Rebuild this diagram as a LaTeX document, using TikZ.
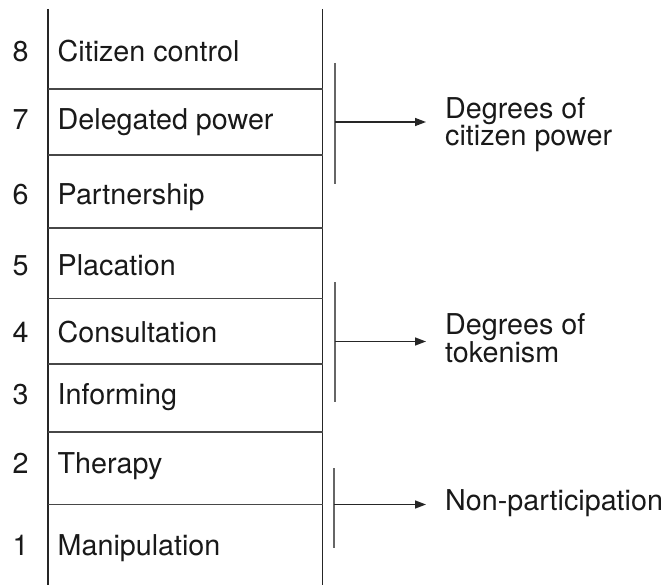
\documentclass[tikz,border=0pt]{standalone}
\usepackage{fontspec}
\setmainfont{TeX Gyre Heros}
\usetikzlibrary{arrows.meta}

\tikzset{
  rail/.style={line width=1.6pt, draw=black!85},
  rung/.style={line width=1.6pt, draw=black!72},
  brace/.style={line width=1.8pt, draw=black!60},
  pointer/.style={line width=1.4pt, draw=black!85,
    -{Triangle[length=11pt,width=8pt]}, shorten >=19pt},
  stepnum/.style={anchor=base, inner sep=0pt, text=black!90},
  steplabel/.style={anchor=base west, inner sep=0pt, text=black!90},
  group/.style={anchor=west, inner sep=0pt, align=left, text=black!90},
}

\begin{document}
\begin{tikzpicture}[x=1pt, y=-1pt, font=\fontsize{28.7}{25}\selectfont]
  \useasboundingbox (0,0) rectangle (666,585);

  % ladder rails
  \coordinate (Lt) at (48,9);    \coordinate (Lb) at (48,585);
  \coordinate (Rt) at (322.5,9); \coordinate (Rb) at (322.5,585);
  \draw[rail] (Lt) -- (Lb);
  \draw[rail] (Rt) -- (Rb);

  % rungs between the steps
  \foreach \y in {89,155,228,298.5,364,432,504.5}
    \draw[rung] (Lt |- 0,\y) -- (Rt |- 0,\y);

  % step numbers and names
  \foreach \n/\y/\t in {8/62/Citizen control, 7/130/Delegated power,
      6/205/Partnership, 5/275/Placation, 4/342.5/Consultation,
      3/404/Informing, 2/473.5/Therapy, 1/555/Manipulation} {
    \node[stepnum] (n\n) at (20.5,\y) {\n};
    \node[steplabel] (l\n) at (57.5,\y) {\t};
  }

  % group labels
  \node[group] (g1) at (445,124.5) {Degrees of\\citizen power};
  \node[group] (g2) at (445,338.5) {Degrees of\\tokenism};
  \node[group] (g3) at (445,503) {Non-participation};

  % brackets
  \coordinate (b1t) at (335,63);  \coordinate (b1b) at (335,184);
  \coordinate (b2t) at (335,282); \coordinate (b2b) at (335,402);
  \coordinate (b3t) at (334,468); \coordinate (b3b) at (334,548);
  \coordinate (b1) at (335,122);
  \coordinate (b2) at (335,341.5);
  \coordinate (b3) at (334,504.5);
  \draw[brace] (b1t) -- (b1b);
  \draw[brace] (b2t) -- (b2b);
  \draw[brace] (b3t) -- (b3b);

  % pointers to the group labels
  \draw[pointer] (b1) -- (b1 -| g1.west);
  \draw[pointer] (b2) -- (b2 -| g2.west);
  \draw[pointer] (b3) -- (b3 -| g3.west);
\end{tikzpicture}
\end{document}
